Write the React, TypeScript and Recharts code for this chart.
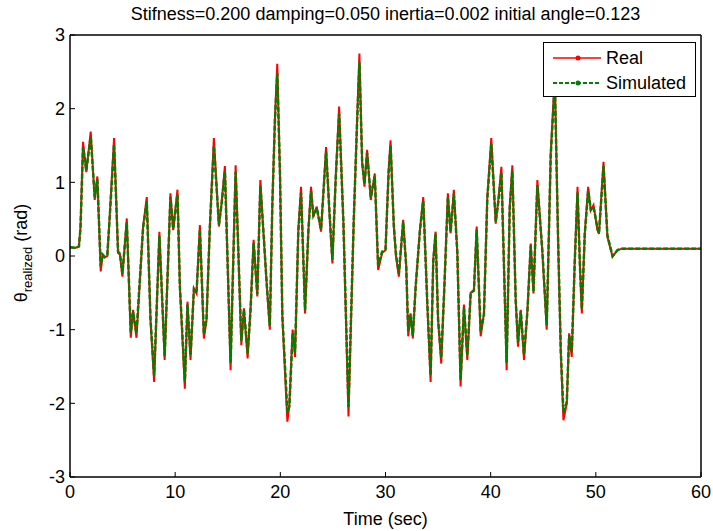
import React from 'react';
import { LineChart, Line, XAxis, YAxis, Legend } from 'recharts';

// time stamps (sec) of the samples
const times = [
  0, 0.5, 0.85, 1.0, 1.24, 1.55, 1.97, 2.35, 2.6, 2.92,
  3.1, 3.3, 3.55, 3.8, 4.19, 4.57, 4.75, 4.98, 5.4, 5.78,
  6.0, 6.32, 6.95, 7.3, 7.65, 8.0, 8.5, 9.0, 9.55, 9.81,
  10.22, 10.45, 10.92, 11.17, 11.46, 11.78, 12.03, 12.35, 12.73, 12.98,
  13.3, 13.68, 14.16, 14.41, 14.73, 15.27, 15.43, 15.75, 16.29, 16.54,
  16.89, 17.17, 17.46, 17.81, 18.1, 18.38, 18.7, 19.0, 19.24, 19.49,
  19.71, 19.97, 20.19, 20.67, 20.86, 21.17, 21.4, 21.71, 21.97, 22.35,
  22.67, 22.92, 23.14, 23.46, 23.87, 24.35, 24.67, 24.95, 25.27, 25.59,
  26.0, 26.48, 26.98, 27.3, 27.52, 27.78, 28.0, 28.25, 28.6, 28.98,
  29.3, 29.68, 30.0, 30.3, 30.48, 30.79, 31.0, 31.27, 31.68, 31.97,
  32.16, 32.38, 32.6, 32.86, 33.27, 33.59, 33.97, 34.29, 34.54, 34.76,
  35.0, 35.3, 35.62, 35.93, 36.19, 36.5, 36.83, 37.14, 37.46, 37.78,
  38.1, 38.41, 38.67, 39.05, 39.36, 39.68, 40.06, 40.48, 40.73, 41.02,
  41.52, 41.81, 42.06, 42.38, 42.6, 42.86, 43.17, 43.5, 43.81, 44.07,
  44.44, 44.92, 45.33, 45.71, 46.1, 46.41, 46.67, 46.92, 47.24, 47.46,
  47.71, 48.0, 48.26, 48.5, 48.67, 48.95, 49.27, 49.52, 49.78, 50.16,
  50.3, 50.73, 51.1, 51.59, 52.06, 52.5, 55, 60,
];

// theta realized (rad), measured
const realValues = [
  0.12, 0.11, 0.13, 0.4, 1.55, 1.14, 1.69, 0.76, 1.08, -0.21,
  0.0, -0.02, 0.0, 0.6, 1.6, 0.04, 0.02, -0.28, 0.51, -1.11,
  -0.73, -1.11, 0.4, 0.8, -0.85, -1.71, 0.33, -1.41, 0.85, 0.35,
  0.9, -0.42, -1.8, -0.62, -1.41, -0.44, -0.51, 0.42, -1.12, -0.87,
  0.4, 1.6, 0.4, 0.71, 1.22, -1.55, -0.55, 1.23, -1.21, -0.71,
  -1.39, -0.71, 0.22, -0.55, 1.03, 0.35, -0.37, -1.0, 0.71, 1.89,
  2.61, 1.08, -0.82, -2.25, -2.02, -1.0, -1.37, 0.35, 0.94, -0.78,
  0.35, 0.94, 0.53, 0.67, 0.33, 1.48, 0.58, -0.1, 1.08, 2.03,
  0.44, -2.18, 0.49, 1.85, 2.75, 1.26, 0.94, 1.44, 0.76, 1.12,
  -0.19, 0.04, 0.08, 1.17, 1.57, 0.4, -0.01, -0.28, 0.49, -0.14,
  -1.09, -0.78, -1.12, -0.42, 0.35, 0.8, -0.64, -1.71, -0.05, 0.33,
  -0.87, -1.46, -0.33, 0.85, 0.31, 0.9, 0.04, -1.77, -0.66, -1.41,
  -0.5, -0.46, 0.4, -1.09, -0.78, 0.8, 1.6, 0.44, 0.76, 1.21,
  -1.55, 0.67, 1.23, -0.6, -1.23, -0.73, -1.41, -0.73, 0.17, -0.51,
  1.03, 0.04, -1.0, 1.39, 2.45, 0.22, -1.32, -2.23, -2.0, -1.05,
  -1.37, -0.05, 0.94, -0.19, -0.78, 0.31, 0.94, 0.62, 0.69, 0.35,
  0.3, 1.28, 0.26, -0.01, 0.08, 0.1, 0.1, 0.1,
];

// theta realized (rad), simulated
const simulatedValues = [
  0.12, 0.11, 0.13, 0.38, 1.48, 1.16, 1.62, 0.8, 1.04, -0.14,
  0.02, -0.01, 0.02, 0.58, 1.52, 0.06, 0.03, -0.24, 0.46, -1.04,
  -0.76, -1.05, 0.38, 0.74, -0.85, -1.62, 0.27, -1.36, 0.8, 0.37,
  0.84, -0.42, -1.7, -0.66, -1.35, -0.46, -0.5, 0.36, -1.06, -0.86,
  0.4, 1.5, 0.43, 0.7, 1.15, -1.45, -0.6, 1.14, -1.15, -0.73,
  -1.32, -0.73, 0.18, -0.52, 0.96, 0.36, -0.37, -0.95, 0.7, 1.85,
  2.48, 1.1, -0.8, -2.12, -2.04, -1.05, -1.3, 0.34, 0.86, -0.73,
  0.36, 0.88, 0.55, 0.65, 0.36, 1.42, 0.6, -0.05, 1.06, 1.93,
  0.44, -2.05, 0.48, 1.82, 2.63, 1.28, 0.98, 1.4, 0.8, 1.08,
  -0.13, 0.06, 0.09, 1.14, 1.5, 0.42, 0.02, -0.24, 0.46, -0.14,
  -1.02, -0.8, -1.08, -0.44, 0.34, 0.75, -0.62, -1.62, -0.08, 0.3,
  -0.86, -1.38, -0.34, 0.8, 0.33, 0.84, 0.05, -1.68, -0.7, -1.35,
  -0.5, -0.47, 0.36, -1.03, -0.8, 0.78, 1.52, 0.47, 0.74, 1.14,
  -1.45, 0.64, 1.16, -0.6, -1.17, -0.75, -1.34, -0.74, 0.14, -0.48,
  0.96, 0.06, -0.94, 1.36, 2.36, 0.24, -1.3, -2.12, -1.98, -1.08,
  -1.3, -0.06, 0.86, -0.17, -0.72, 0.3, 0.88, 0.63, 0.67, 0.37,
  0.31, 1.22, 0.28, 0.0, 0.08, 0.1, 0.1, 0.1,
];

const xTicks = [0, 10, 20, 30, 40, 50, 60];
const yTicks = [-3, -2, -1, 0, 1, 2, 3];

const data = times.map((t, i) => ({ t, real: realValues[i], simulated: simulatedValues[i] }));

const FONT = '"Liberation Sans", Arial, sans-serif';
const FS = 18;
const tickStyle = { fill: '#000', fontSize: FS, fontFamily: FONT };
const axisStyle = { stroke: '#000', strokeWidth: 1.5 };

const renderLegend = () => (
  <div
    style={{
      width: 153,
      height: 55,
      border: '1.5px solid #000',
      background: '#fff',
      boxSizing: 'border-box',
    }}
  >
    <svg width={150} height={52} style={{ display: 'block' }}>
      <line x1={9} x2={57} y1={15} y2={15} stroke="#ff0000" strokeWidth={1.5} />
      <circle cx={34} cy={15} r={2.5} fill="#ff0000" />
      <text x={62} y={21} fontFamily={FONT} fontSize={FS} fill="#000">Real</text>
      <line x1={9} x2={57} y1={40} y2={40} stroke="#008000" strokeWidth={2} strokeDasharray="4 2" />
      <circle cx={34} cy={40} r={2.5} fill="#008000" />
      <text x={62} y={46} fontFamily={FONT} fontSize={FS} fill="#000">Simulated</text>
    </svg>
  </div>
);

export default function App() {
  return (
    <div style={{ position: 'absolute', left: 0, top: 0, background: '#fff' }}>
      <LineChart width={713} height={531} data={data} margin={{ top: 34, right: 11, left: 0, bottom: 0 }}>
        <XAxis
          xAxisId="b"
          type="number"
          dataKey="t"
          domain={[0, 60]}
          ticks={xTicks}
          interval={0}
          height={54}
          tickSize={-5}
          tickMargin={13}
          axisLine={axisStyle}
          tickLine={{ stroke: '#000' }}
          tick={tickStyle}
          label={{
            content: () => (
              <text x={385.5} y={525} textAnchor="middle" fontFamily={FONT} fontSize={FS} fill="#000">
                Time (sec)
              </text>
            ),
          }}
        />
        <XAxis
          xAxisId="top"
          orientation="top"
          type="number"
          dataKey="t"
          domain={[0, 60]}
          ticks={xTicks}
          interval={0}
          height={1}
          tickSize={-5}
          axisLine={axisStyle}
          tickLine={{ stroke: '#000' }}
          tick={false}
          label={{
            content: () => (
              <text x={385.5} y={20} textAnchor="middle" fontFamily={FONT} fontSize={FS} fill="#000">
                Stifness=0.200 damping=0.050 inertia=0.002 initial angle=0.123
              </text>
            ),
          }}
        />
        <YAxis
          yAxisId="l"
          type="number"
          domain={[-3, 3]}
          ticks={yTicks}
          interval={0}
          width={70}
          tickSize={-5}
          tickMargin={10}
          axisLine={axisStyle}
          tickLine={{ stroke: '#000' }}
          tick={tickStyle}
          label={{
            content: () => (
              <text
                x={27}
                y={253}
                transform="rotate(-90 27 253)"
                textAnchor="middle"
                fontFamily={FONT}
                fontSize={FS}
                fill="#000"
              >
                θ
                <tspan dy={5} fontSize={13}>realized</tspan>
                <tspan dy={-5}> (rad)</tspan>
              </text>
            ),
          }}
        />
        <YAxis
          yAxisId="r"
          orientation="right"
          type="number"
          domain={[-3, 3]}
          ticks={yTicks}
          interval={0}
          width={1}
          tickSize={-5}
          axisLine={axisStyle}
          tickLine={{ stroke: '#000' }}
          tick={false}
        />
        <Line
          xAxisId="b"
          yAxisId="l"
          type="linear"
          dataKey="real"
          name="Real"
          stroke="#ff0000"
          strokeWidth={2}
          dot={false}
          isAnimationActive={false}
        />
        <Line
          xAxisId="b"
          yAxisId="l"
          type="linear"
          dataKey="simulated"
          name="Simulated"
          stroke="#008000"
          strokeWidth={2.5}
          strokeDasharray="5 2"
          dot={false}
          isAnimationActive={false}
        />
        <Legend
          layout="vertical"
          align="center"
          verticalAlign="middle"
          content={renderLegend}
          wrapperStyle={{ left: 543, top: 42, width: 153, height: 55 }}
        />
      </LineChart>
    </div>
  );
}
